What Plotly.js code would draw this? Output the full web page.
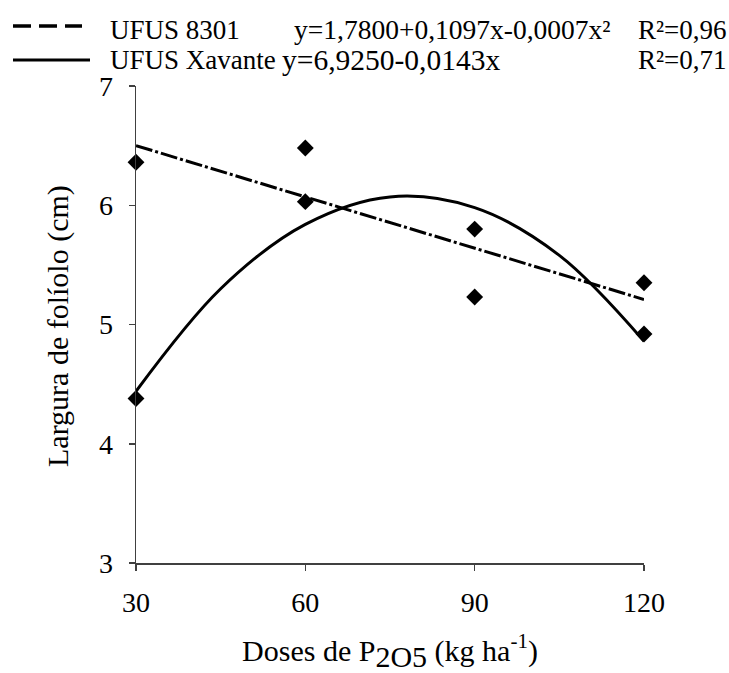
<!DOCTYPE html>
<html>
<head>
<meta charset="utf-8">
<script src="https://cdn.plot.ly/plotly-3.0.1.min.js"></script>
<style>html,body{margin:0;padding:0;background:#fff;}#chart{width:729px;height:673px;}</style>
</head>
<body>
<div id="chart"></div>
<script>
// Observed data (diamonds)
const doses = [30, 60, 90, 120];
const obsA = [6.36, 6.48, 5.80, 5.35];
const obsB = [4.38, 6.03, 5.23, 4.92];

// Fitted curves
const fitLinX = [30, 120];
const fitLinY = [6.50, 5.21];
const fitQuadX = [30, 45, 60, 75, 90, 105, 120];
const fitQuadY = [4.44, 5.30, 5.84, 6.07, 5.98, 5.58, 4.86];

const xTicks = [30, 60, 90, 120];
const yTicks = [3, 4, 5, 6, 7];

const legendNames = ["UFUS 8301", "UFUS Xavante"];
const legendEqs = ["y=1,7800+0,1097x-0,0007x²", "y=6,9250-0,0143x"];
const legendR2 = ["R²=0,96", "R²=0,71"];

const W = 729, H = 673;
const L = 136, R = 644, T = 86, B = 563;
const px = x => (x - L) / (R - L);
const py = y => (B - y) / (B - T);

const FONT = "Liberation Serif";
const AX = "#404040";

const traces = [
  {x: fitQuadX, y: fitQuadY, mode: "lines", line: {color: "#000", width: 3, shape: "spline", smoothing: 1}, hoverinfo: "skip", showlegend: false, cliponaxis: false},
  {x: fitLinX, y: fitLinY, mode: "lines", line: {color: "#000", width: 3, dash: "17px,3px,3px,3px"}, hoverinfo: "skip", showlegend: false, cliponaxis: false},
  {x: doses, y: obsA, mode: "markers", marker: {symbol: "diamond", size: 13, color: "#000"}, showlegend: false, cliponaxis: false},
  {x: doses, y: obsB, mode: "markers", marker: {symbol: "diamond", size: 13, color: "#000"}, showlegend: false, cliponaxis: false}
];

const ann = [];
const rowsY = [30, 60];
const eqX = [295, 283];
const eqSize = [27.5, 29.5];
for (let i = 0; i < 2; i++) {
  ann.push({xref: "paper", yref: "paper", x: px(108), y: py(rowsY[i]), xanchor: "left", yanchor: "middle", text: legendNames[i], showarrow: false, font: {family: FONT, size: 27, color: "#000"}});
  ann.push({xref: "paper", yref: "paper", x: px(eqX[i] - 3), y: py(rowsY[i]), xanchor: "left", yanchor: "middle", text: legendEqs[i], showarrow: false, font: {family: FONT, size: eqSize[i], color: "#000"}});
  ann.push({xref: "paper", yref: "paper", x: px(729), y: py(rowsY[i]), xanchor: "right", yanchor: "middle", text: legendR2[i], showarrow: false, font: {family: FONT, size: 27, color: "#000"}});
}
ann.push({xref: "paper", yref: "paper", x: px(58), y: py(326), xanchor: "center", yanchor: "middle", textangle: -90, text: "Largura de folíolo (cm)", showarrow: false, font: {family: FONT, size: 30, color: "#000"}});

const shapes = [
  {type: "line", xref: "paper", yref: "paper", x0: px(13), x1: px(82), y0: py(26), y1: py(26), line: {color: "#000", width: 3.5, dash: "18px,8px"}},
  {type: "line", xref: "paper", yref: "paper", x0: px(13), x1: px(90), y0: py(60), y1: py(60), line: {color: "#000", width: 3}}
];

const layout = {
  width: W, height: H,
  margin: {l: L, r: W - R, t: T, b: H - B, pad: 0},
  paper_bgcolor: "#fff", plot_bgcolor: "#fff",
  showlegend: false,
  font: {family: FONT, size: 27, color: "#000"},
  xaxis: {
    range: [30, 120], tickvals: xTicks, ticktext: xTicks.map(String),
    showgrid: false, zeroline: false, showline: true, linecolor: AX, linewidth: 1.5,
    ticks: "outside", ticklen: 6, tickwidth: 1.5, tickcolor: AX,
    tickfont: {family: FONT, size: 28, color: "#000"},
    ticklabelstandoff: 8,
    title: {text: "Doses de P<sub><span style='font-size:30px'>2O5</span></sub> (kg ha<sup>-1</sup>)", font: {family: FONT, size: 30, color: "#000"}, standoff: 32}
  },
  yaxis: {
    range: [3, 7], tickvals: yTicks, ticktext: yTicks.map(String),
    showgrid: false, zeroline: false, showline: true, linecolor: AX, linewidth: 1.5,
    ticks: "outside", ticklen: 6, tickwidth: 1.5, tickcolor: AX,
    tickfont: {family: FONT, size: 28, color: "#000"},
    ticklabelstandoff: 10
  },
  annotations: ann,
  shapes: shapes
};

Plotly.newPlot("chart", traces, layout, {displayModeBar: false, staticPlot: true});
</script>
</body>
</html>
